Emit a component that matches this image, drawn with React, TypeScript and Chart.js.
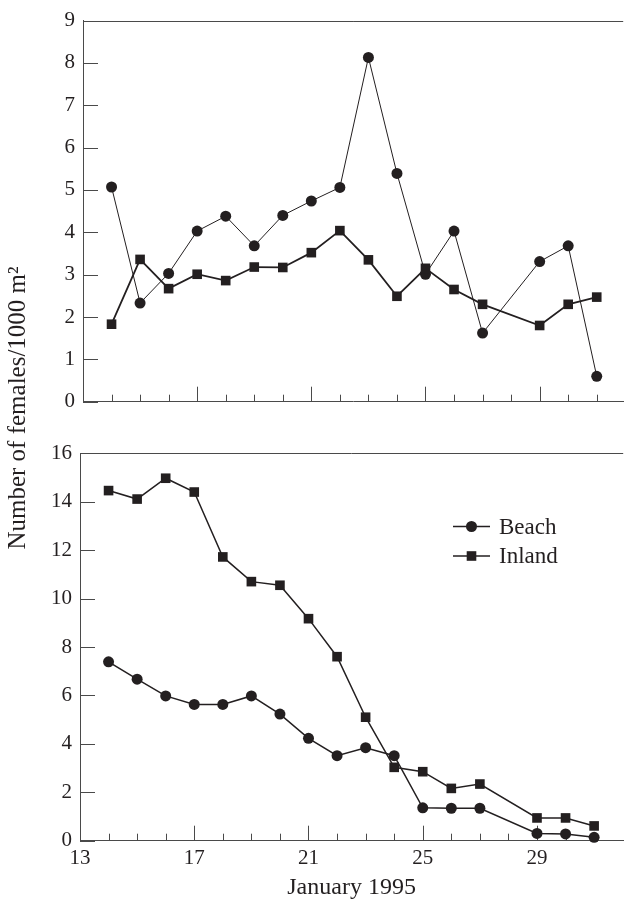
import React, { useEffect, useRef } from "react";
import { Chart, registerables } from "chart.js";

Chart.register(...registerables);

// ---- data ----
const days = [14, 15, 16, 17, 18, 19, 20, 21, 22, 23, 24, 25, 26, 27, 29, 30, 31];
const topBeach = [5.07, 2.33, 3.03, 4.03, 4.38, 3.68, 4.4, 4.74, 5.06, 8.13, 5.39, 3.01, 4.03, 1.62, 3.31, 3.68, 0.6];
const topInland = [1.83, 3.36, 2.67, 3.01, 2.86, 3.18, 3.17, 3.52, 4.04, 3.35, 2.49, 3.15, 2.65, 2.3, 1.8, 2.3, 2.47];
const bottomBeach = [7.39, 6.67, 5.98, 5.63, 5.63, 5.98, 5.23, 4.23, 3.51, 3.84, 3.51, 1.36, 1.34, 1.34, 0.3, 0.28, 0.14];
const bottomInland = [14.46, 14.11, 14.97, 14.4, 11.72, 10.7, 10.55, 9.17, 7.6, 5.1, 3.03, 2.85, 2.16, 2.34, 0.94, 0.94, 0.61];
const seriesNames = ["Beach", "Inland"];
const xTickValues = [13, 14, 15, 16, 17, 18, 19, 20, 21, 22, 23, 24, 25, 26, 27, 28, 29, 30, 31];
const xLabelledTicks = [13, 17, 21, 25, 29];
const topYTicks = [0, 1, 2, 3, 4, 5, 6, 7, 8, 9];
const bottomYTicks = [0, 2, 4, 6, 8, 10, 12, 14, 16];
const xTitle = "January 1995";
const yTitle = "Number of females/1000 m\u00B2";

// ---- style ----
const INK = "#231f20";
const AXIS = "#4a4a4a";
const FONT = "'Liberation Serif', 'Times New Roman', serif";

function pts(values: number[]) {
  return days.map((d, i) => ({ x: d, y: values[i] }));
}

function framePlugin(yTicks: number[], drawX13: boolean) {
  return {
    id: "frame",
    beforeDatasetsDraw(chart: any) {
      const { ctx, chartArea, scales } = chart;
      const { left, right, top, bottom } = chartArea;
      const x = scales.x;
      const y = scales.y;
      ctx.save();
      ctx.strokeStyle = AXIS;
      ctx.lineWidth = 1;
      ctx.beginPath();
      ctx.moveTo(left, Math.round(top) + 0.5);
      ctx.lineTo(right, Math.round(top) + 0.5);
      for (const v of xTickValues) {
        if (v === 13 && !drawX13) continue;
        const px = Math.round(x.getPixelForValue(v)) + 0.5;
        const len = xLabelledTicks.includes(v) ? 15 : 7;
        ctx.moveTo(px, bottom);
        ctx.lineTo(px, bottom - len);
      }
      for (const v of yTicks) {
        const py = Math.round(y.getPixelForValue(v)) + 0.5;
        ctx.moveTo(left, py);
        ctx.lineTo(left + 15, py);
      }
      ctx.stroke();
      ctx.restore();
    },
  };
}

const yTitlePlugin = {
  id: "yTitle",
  afterDraw(chart: any) {
    const ctx = chart.ctx;
    ctx.save();
    ctx.translate(18, 408);
    ctx.rotate(-Math.PI / 2);
    ctx.fillStyle = INK;
    ctx.font = `25px ${FONT}`;
    ctx.textAlign = "center";
    ctx.textBaseline = "middle";
    ctx.fillText(yTitle, 0, 0);
    ctx.restore();
  },
};

const legendPlugin = {
  id: "customLegend",
  afterDraw(chart: any) {
    const ctx = chart.ctx;
    const x0 = 453;
    const rows = [106.5, 136];
    ctx.save();
    ctx.font = `23px ${FONT}`;
    ctx.textBaseline = "middle";
    ctx.textAlign = "left";
    seriesNames.forEach((name, i) => {
      const yy = rows[i];
      ctx.strokeStyle = INK;
      ctx.lineWidth = 1.5;
      ctx.beginPath();
      ctx.moveTo(x0, yy);
      ctx.lineTo(x0 + 37, yy);
      ctx.stroke();
      ctx.fillStyle = INK;
      if (i === 0) {
        ctx.beginPath();
        ctx.arc(x0 + 18.5, yy, 5.5, 0, Math.PI * 2);
        ctx.fill();
      } else {
        ctx.fillRect(x0 + 18.5 - 4.8, yy - 4.8, 9.6, 9.6);
      }
      ctx.fillText(name, x0 + 46, yy + 1);
    });
    ctx.restore();
  },
};

function yScale(max: number, ticks: number[], width: number) {
  return {
    min: 0,
    max,
    afterBuildTicks: (s: any) => {
      s.ticks = ticks.map((v) => ({ value: v }));
    },
    afterFit: (s: any) => {
      s.width = width;
    },
    grid: { display: false, drawTicks: false },
    border: { display: true, color: AXIS, width: 1 },
    ticks: { color: INK, font: { family: FONT, size: 21 }, padding: 8 },
  };
}

export default function App() {
  const topRef = useRef<HTMLCanvasElement>(null);
  const botRef = useRef<HTMLCanvasElement>(null);

  useEffect(() => {
    const top = new Chart(topRef.current as HTMLCanvasElement, {
      type: "line",
      data: {
        datasets: [
          {
            label: seriesNames[1],
            data: pts(topInland),
            borderColor: INK,
            backgroundColor: INK,
            borderWidth: 1.8,
            pointStyle: "rect",
            pointRadius: 6.8,
            pointBorderWidth: 0,
            pointBackgroundColor: INK,
            clip: false,
          },
          {
            label: seriesNames[0],
            data: pts(topBeach),
            borderColor: INK,
            backgroundColor: INK,
            borderWidth: 1,
            pointStyle: "circle",
            pointRadius: 5.5,
            pointBorderWidth: 0,
            pointBackgroundColor: INK,
            clip: false,
          },
        ],
      },
      options: {
        responsive: false,
        animation: false,
        devicePixelRatio: 1,
        events: [],
        layout: { padding: { left: 0, right: 0, top: 13.3, bottom: 905 - 401.7 } },
        plugins: { legend: { display: false }, tooltip: { enabled: false } },
        scales: {
          x: {
            type: "linear",
            min: 13,
            max: 13 + (630 - 83) / 28.9,
            afterFit: (s: any) => {
              s.height = 0;
            },
            grid: { display: false, drawTicks: false },
            border: { display: true, color: AXIS, width: 1 },
            ticks: { display: false },
          },
          y: yScale(9, topYTicks, 83),
        },
      } as any,
      plugins: [framePlugin(topYTicks, false), yTitlePlugin],
    });

    const bottom = new Chart(botRef.current as HTMLCanvasElement, {
      type: "line",
      data: {
        datasets: [
          {
            label: seriesNames[1],
            data: pts(bottomInland),
            borderColor: INK,
            backgroundColor: INK,
            borderWidth: 1.5,
            pointStyle: "rect",
            pointRadius: 6.8,
            pointBorderWidth: 0,
            pointBackgroundColor: INK,
            clip: false,
          },
          {
            label: seriesNames[0],
            data: pts(bottomBeach),
            borderColor: INK,
            backgroundColor: INK,
            borderWidth: 1.5,
            pointStyle: "circle",
            pointRadius: 5.5,
            pointBorderWidth: 0,
            pointBackgroundColor: INK,
            clip: false,
          },
        ],
      },
      options: {
        responsive: false,
        animation: false,
        devicePixelRatio: 1,
        events: [],
        layout: { padding: { left: 0, right: 0, top: 33.3, bottom: 0 } },
        plugins: { legend: { display: false }, tooltip: { enabled: false } },
        scales: {
          x: {
            type: "linear",
            min: 13,
            max: 13 + (630 - 80) / 28.92,
            afterBuildTicks: (s: any) => {
              s.ticks = xTickValues.map((v) => ({ value: v }));
            },
            afterFit: (s: any) => {
              s.height = 485 - 420.7;
            },
            grid: { display: false, drawTicks: false },
            border: { display: true, color: AXIS, width: 1 },
            ticks: {
              autoSkip: false,
              maxRotation: 0,
              color: INK,
              font: { family: FONT, size: 21 },
              padding: 5,
              callback: (v: any) => (xLabelledTicks.includes(Number(v)) ? String(v) : ""),
            },
            title: {
              display: true,
              text: xTitle,
              color: INK,
              font: { family: FONT, size: 24 },
              padding: { top: 0, bottom: 3 },
            },
          },
          y: yScale(16, bottomYTicks, 80),
        },
      } as any,
      plugins: [framePlugin(bottomYTicks, true), legendPlugin],
    });

    return () => {
      top.destroy();
      bottom.destroy();
    };
  }, []);

  return (
    <div style={{ position: "fixed", left: 0, top: 0, width: 630, height: 905, background: "#fff" }}>
      <canvas
        ref={topRef}
        width={630}
        height={905}
        style={{ position: "absolute", left: 0, top: 0, width: 630, height: 905 }}
      />
      <canvas
        ref={botRef}
        width={630}
        height={485}
        style={{ position: "absolute", left: 0, top: 420, width: 630, height: 485 }}
      />
    </div>
  );
}
